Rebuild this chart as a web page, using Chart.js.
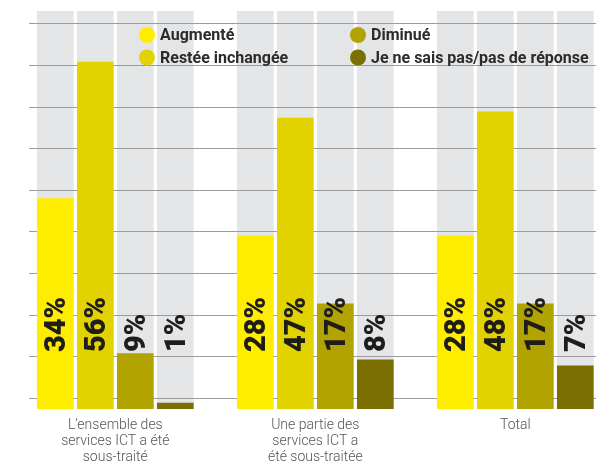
<!DOCTYPE html>
<html>
<head>
<meta charset="utf-8">
<script src="https://cdn.jsdelivr.net/npm/chart.js@4/dist/chart.umd.min.js"></script>
<style>
html,body{margin:0;padding:0;background:#fff;overflow:hidden;}
#wrap{width:601px;height:461px;position:relative;}
</style>
</head>
<body>
<div id="wrap"><canvas id="c" width="601" height="461"></canvas></div>
<script>
const categories = [
  ["L’ensemble des", "services ICT a été", "sous-traité"],
  ["Une partie des", "services ICT a", "été sous-traitée"],
  ["Total"]
];
const seriesNames = ["Augmenté", "Restée inchangée", "Diminué", "Je ne sais pas/pas de réponse"];
const augmente = [34, 28, 28];
const inchangee = [56, 47, 48];
const diminue = [9, 17, 17];
const nsp = [1, 8, 7];
const seriesColors = ["#FFED00", "#E2D300", "#B1A300", "#7A6F00"];

const seriesValues = [augmente, inchangee, diminue, nsp];

const datasets = seriesValues.map((vals, s) => ({
  label: seriesNames[s],
  data: vals.map((v, i) => ({ x: i, y: v })),
  backgroundColor: seriesColors[s],
  borderWidth: 0,
  categoryPercentage: 0.8,
  barPercentage: 0.917
}));

const Y_MAX = 64.2;
const gridValues = [];
for (let k = 0; k < 10; k++) gridValues.push(1.73 + 6.71 * k);

const columnsPlugin = {
  id: 'columns',
  beforeDraw(chart) {
    const ctx = chart.ctx;
    const ys = chart.scales.y;
    const top = chart.chartArea.top;
    const base = ys.getPixelForValue(0);
    ctx.save();
    ctx.fillStyle = '#E4E5E7';
    chart.data.datasets.forEach((ds, di) => {
      chart.getDatasetMeta(di).data.forEach(el => {
        ctx.fillRect(el.x - el.width / 2, top, el.width, base - top);
      });
    });
    ctx.restore();
  }
};

const labelsPlugin = {
  id: 'vlabels',
  afterDatasetsDraw(chart) {
    const ctx = chart.ctx;
    const base = chart.scales.y.getPixelForValue(0);
    ctx.save();
    ctx.fillStyle = '#1f1d1a';
    ctx.font = '900 29px Roboto';
    ctx.textAlign = 'left';
    ctx.textBaseline = 'alphabetic';
    chart.data.datasets.forEach((ds, di) => {
      chart.getDatasetMeta(di).data.forEach((el, i) => {
        const v = ds.data[i].y;
        ctx.save();
        ctx.translate(el.x, base - 57);
        ctx.rotate(-Math.PI / 2);
        ctx.fillText(v + '%', 0, 9.5);
        ctx.restore();
      });
    });
    ctx.restore();
  }
};

const legendPlugin = {
  id: 'gridLegend',
  afterDraw(chart) {
    const ctx = chart.ctx;
    const cols = [147, 358];
    const rows = [35, 57.5];
    const order = [[0, 0, 0], [1, 0, 1], [2, 1, 0], [3, 1, 1]];
    ctx.save();
    ctx.font = 'bold 16px Roboto';
    ctx.textBaseline = 'middle';
    ctx.textAlign = 'left';
    order.forEach(([di, c, r]) => {
      const ds = chart.data.datasets[di];
      ctx.fillStyle = ds.backgroundColor;
      ctx.beginPath();
      ctx.arc(cols[c], rows[r], 8, 0, Math.PI * 2);
      ctx.fill();
      ctx.fillStyle = '#2b2b2b';
      ctx.fillText(ds.label, cols[c] + 13, rows[r] + 1);
    });
    ctx.restore();
  }
};

new Chart(document.getElementById('c'), {
  type: 'bar',
  data: { datasets },
  plugins: [columnsPlugin, labelsPlugin, legendPlugin],
  options: {
    responsive: false,
    animation: false,
    devicePixelRatio: 1,
    layout: { padding: { left: 29, right: 5, top: 11, bottom: 0 } },
    plugins: { legend: { display: false }, tooltip: { enabled: false } },
    scales: {
      x: {
        type: 'linear',
        offset: false,
        min: -0.4315,
        max: 2.4035,
        grid: { display: false, drawTicks: false, offset: false },
        border: { display: false },
        afterBuildTicks(scale) { scale.ticks = categories.map((c, i) => ({ value: i })); },
        afterFit(scale) { scale.height = 52; },
        ticks: {
          padding: 9,
          color: '#555',
          font: { family: 'Roboto', size: 14, weight: '300', lineHeight: 1.12 },
          maxRotation: 0,
          autoSkip: false,
          callback: (v) => categories[v]
        }
      },
      y: {
        type: 'linear',
        min: 0,
        max: Y_MAX,
        grid: { color: '#9c9c9c', lineWidth: 1, drawTicks: false },
        border: { display: false },
        ticks: { display: false },
        afterBuildTicks(scale) { scale.ticks = gridValues.map(v => ({ value: v })); },
        afterFit(scale) { scale.width = 0; }
      }
    }
  }
});
</script>
</body>
</html>
